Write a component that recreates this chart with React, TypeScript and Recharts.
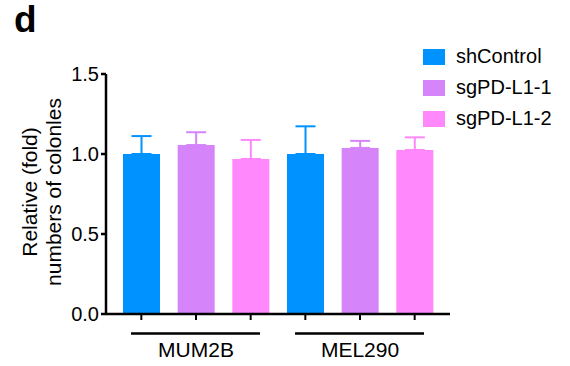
import { BarChart, Bar, Cell, ErrorBar, XAxis, YAxis, Legend, Label } from 'recharts'

const FONT = '"Liberation Sans", Arial, sans-serif'

const groups = ['MUM2B', 'MEL290']
const seriesNames = ['shControl', 'sgPD-L1-1', 'sgPD-L1-2']
const seriesColors = ['#0092ff', '#d584fa', '#ff88fc']

// mean fold change, one value per cell line (MUM2B, MEL290)
const shControlMean = [1.0, 1.0]
const sgPDL1_1Mean = [1.056, 1.038]
const sgPDL1_2Mean = [0.969, 1.025]

// upper error bar, one value per cell line
const shControlErr = [0.112, 0.173]
const sgPDL1_1Err = [0.08, 0.044]
const sgPDL1_2Err = [0.119, 0.079]

const yTicks = [0, 0.5, 1.0, 1.5]

const means = [shControlMean, sgPDL1_1Mean, sgPDL1_2Mean]
const errs = [shControlErr, sgPDL1_1Err, sgPDL1_2Err]

// one row per bar; each row only carries the error key of its own series
const data = groups.flatMap((group, g) =>
  seriesNames.map((name, s) => ({
    key: `${group} ${name}`,
    group,
    series: s,
    value: means[s][g],
    [`err${s}`]: [0, errs[s][g]],
  }))
)

// draws the group bracket + cell line name under the middle bar of each group
function GroupTick({ x, y, index }: any) {
  if (index % 3 !== 1) return <g />
  const row = data[index]
  return (
    <g>
      <line x1={x - 65} x2={x + 64} y1={y + 11.5} y2={y + 11.5} stroke="#000" strokeWidth={2.5} />
      <text x={x} y={y + 34.7} textAnchor="middle" fontSize={21} fontFamily={FONT} fill="#000">
        {row.group}
      </text>
    </g>
  )
}

function YTitle() {
  return (
    <g fontFamily={FONT} fontSize={21} fill="#000">
      <text x={37} y={192} transform="rotate(-90 37 192)" textAnchor="middle">Relative (fold)</text>
      <text x={61} y={192} transform="rotate(-90 61 192)" textAnchor="middle">numbers of colonles</text>
    </g>
  )
}

function SeriesLegend() {
  return (
    <div style={{ display: 'flex', flexDirection: 'column', fontFamily: FONT }}>
      {seriesNames.map((name, i) => (
        <div key={name} style={{ display: 'flex', alignItems: 'center', height: 31 }}>
          <span style={{ width: 22, height: 16, background: seriesColors[i], marginRight: 11 }} />
          <span style={{ fontSize: 20, color: '#000', whiteSpace: 'nowrap' }}>{name}</span>
        </div>
      ))}
    </div>
  )
}

export default function App() {
  return (
    <div style={{ position: 'absolute', left: 0, top: 0, width: 570, height: 366, background: '#fff', fontFamily: FONT }}>
      <svg width={60} height={45} style={{ position: 'absolute', left: 0, top: 0 }}>
        <text x={14} y={32} fontSize={37} fontWeight="bold" fontFamily={FONT} fill="#000">d</text>
      </svg>
      <BarChart
        width={570}
        height={366}
        data={data}
        margin={{ top: 74, right: 120, left: 0, bottom: 0 }}
      >
        <XAxis
          dataKey="key"
          height={52}
          padding={{ left: 8, right: 8 }}
          axisLine={{ stroke: '#000', strokeWidth: 2.5 }}
          tickLine={{ stroke: '#000', strokeWidth: 2 }}
          tickSize={6}
          tickMargin={2}
          tick={<GroupTick />}
          interval={0}
        />
        <YAxis
          width={106}
          domain={[0, 1.5]}
          ticks={yTicks}
          tickFormatter={(v: number) => v.toFixed(1)}
          axisLine={{ stroke: '#000', strokeWidth: 2.5 }}
          tickLine={{ stroke: '#000', strokeWidth: 2.5 }}
          tickSize={5}
          tickMargin={2}
          tick={{ fontSize: 20, fill: '#000', fontFamily: FONT }}
        >
          <Label content={<YTitle />} />
        </YAxis>
        <Legend
          layout="vertical"
          align="center"
          verticalAlign="middle"
          content={<SeriesLegend />}
          wrapperStyle={{ left: 423, top: 41, width: 140 }}
        />
        <Bar dataKey="value" barSize={37} isAnimationActive={false}>
          {data.map((row) => (
            <Cell key={row.key} fill={seriesColors[row.series]} />
          ))}
          {seriesNames.map((name, s) => (
            <ErrorBar
              key={name}
              dataKey={`err${s}`}
              direction="y"
              width={10}
              stroke={seriesColors[s]}
              strokeWidth={2}
              isAnimationActive={false}
            />
          ))}
        </Bar>
      </BarChart>
    </div>
  )
}
